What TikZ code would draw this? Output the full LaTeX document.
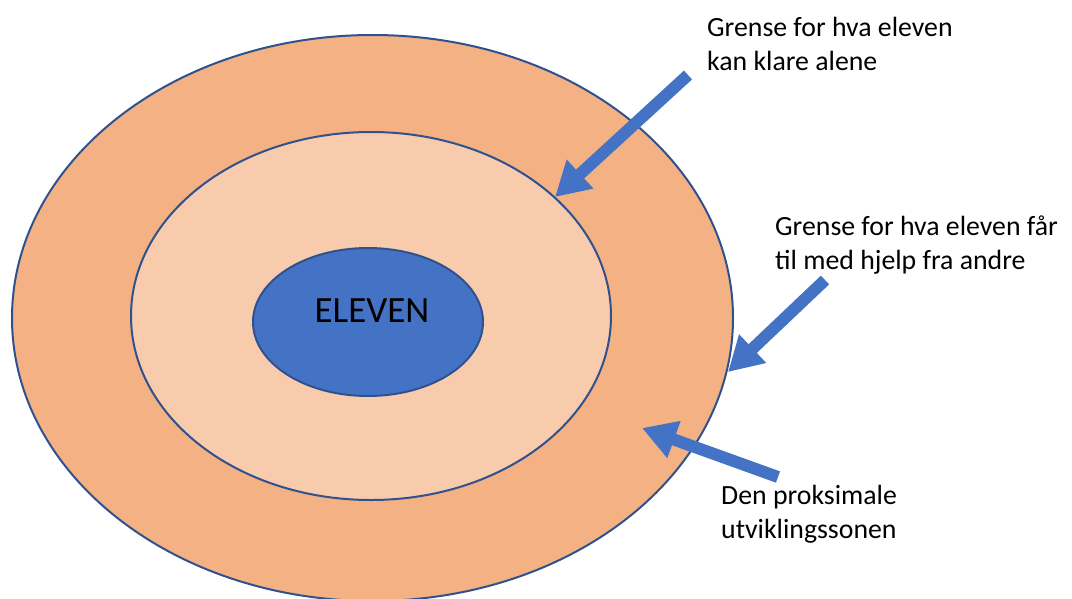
\documentclass[tikz,border=0pt]{standalone}
\usepackage{fontspec}
\setmainfont{Carlito}
\usetikzlibrary{shapes.geometric,arrows.meta}
\definecolor{outerfill}{HTML}{F4B183}
\definecolor{midfill}{HTML}{F8CBAD}
\definecolor{bluefill}{HTML}{4472C4}
\definecolor{edgeblue}{HTML}{2F528F}
\tikzset{
  ring/.style={ellipse, draw=edgeblue, line width=2pt, inner sep=0pt},
  lbl/.style={anchor=base west, align=left, inner sep=0pt, font=\fontsize{27.8}{34}\selectfont, text=black},
  blockarrow/.style={draw=bluefill, line width=12pt, line cap=butt,
    -{Triangle[width=37pt,length=34pt]}},
}
\begin{document}
\begin{tikzpicture}[x=1pt,y=-1pt]
\useasboundingbox (0,0) rectangle (1072,598);
\begin{scope}
\clip (0,0) rectangle (1072,598);
\node[ring, fill=outerfill, minimum width=721pt, minimum height=566pt] (outer) at (372.5,318) {};
\node[ring, fill=midfill, minimum width=480pt, minimum height=368pt] (middle) at (371,316) {};
\node[ring, fill=bluefill, minimum width=230pt, minimum height=148pt] (inner) at (368,322) {};
\node[font=\fontsize{37}{40}\selectfont, anchor=base] (elevtxt) at (372,322) {ELEVEN};
\end{scope}
\node[lbl] (t1) at (707,70) {Grense for hva eleven\\kan klare alene};
\node[lbl] (t2) at (775,269) {Grense for hva eleven får\\til med hjelp fra andre};
\node[lbl] (t3) at (721,538) {Den proksimale\\utviklingssonen};
\coordinate (a1s) at (688,75);
\coordinate (a1e) at (555,197);
\coordinate (a2s) at (825,280);
\coordinate (a2e) at (728,372);
\coordinate (a3s) at (778,477);
\coordinate (a3e) at (642,428);
\draw[blockarrow] (a1s) -- (a1e);
\draw[blockarrow] (a2s) -- (a2e);
\draw[blockarrow] (a3s) -- (a3e);
\end{tikzpicture}
\end{document}
